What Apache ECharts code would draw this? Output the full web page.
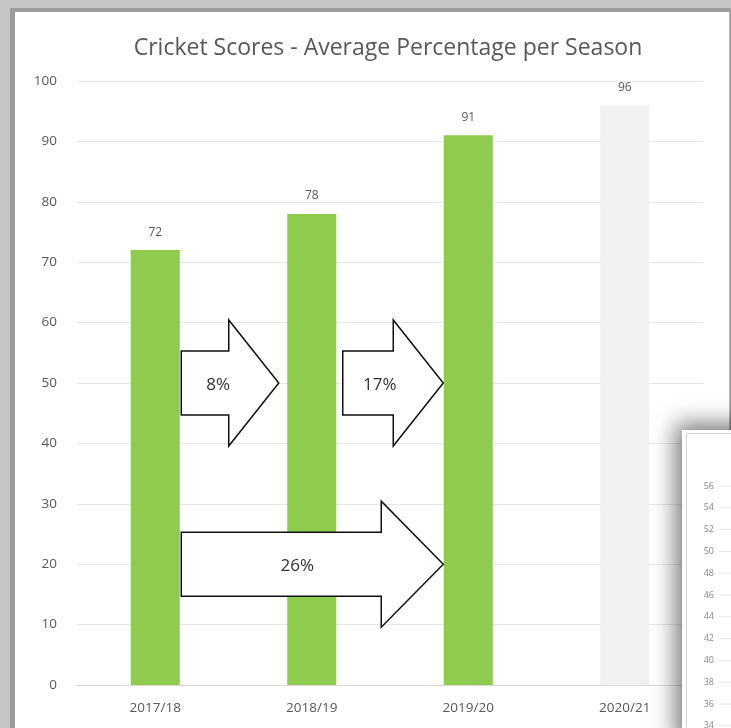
<!DOCTYPE html>
<html>
<head>
<meta charset="utf-8">
<script src="https://cdn.jsdelivr.net/npm/echarts@6/dist/echarts.min.js"></script>
<style>
html,body{margin:0;padding:0;background:#c4c4c4;}
#chart{width:731px;height:728px;}
</style>
</head>
<body>
<div id="chart"></div>
<script>
// ---- data ----
const title = 'Cricket Scores - Average Percentage per Season';
const categories = ['2017/18', '2018/19', '2019/20', '2020/21'];
const scores = [72, 78, 91, 96];
const barColors = ['#8fcc4e', '#8fcc4e', '#8fcc4e', '#f2f2f2'];
const arrowLabels = ['8%', '17%', '26%'];
const arrowFrom = [0, 1, 0];
const arrowTo = [1, 2, 2];
const arrowLevel = [50, 50, 20];
const insetTicks = ['56', '54', '52', '50', '48', '46', '44', '42', '40', '38', '36', '34'];

const FONT = '"Open Sans", "Liberation Sans", sans-serif';
const chart = echarts.init(document.getElementById('chart'));

chart.setOption({
  backgroundColor: 'transparent',
  animation: false,
  title: {
    text: title, left: 383, top: 32, textAlign: 'center',
    textStyle: { fontFamily: FONT, fontSize: 23, fontWeight: 'normal', color: '#595959' }
  },
  grid: { left: 77, right: 28, top: 81, bottom: 43 },
  xAxis: {
    type: 'category', data: categories,
    axisLine: { lineStyle: { color: '#d9d9d9', width: 1 } },
    axisTick: { show: false },
    axisLabel: { fontFamily: FONT, fontSize: 13.5, color: '#595959', margin: 16 }
  },
  yAxis: {
    type: 'value', min: 0, max: 100, interval: 10,
    axisLine: { show: false }, axisTick: { show: false },
    splitLine: { lineStyle: { color: '#e8e8e8', width: 1 } },
    axisLabel: { fontFamily: FONT, fontSize: 13.5, color: '#595959', margin: 20 }
  },
  series: [{
    type: 'bar',
    barWidth: 49,
    data: scores.map((v, i) => ({ value: v, itemStyle: { color: barColors[i] } })),
    label: { show: true, position: 'top', distance: 12, fontFamily: FONT, fontSize: 12, color: '#595959' }
  }]
});

function buildGraphics() {
  const g = [];
  // card frame
  g.push({ type: 'rect', z: -100, silent: true, shape: { x: 0, y: 0, width: 731, height: 728 }, style: { fill: '#c6c6c6' } });
  g.push({ type: 'rect', z: -99, silent: true, shape: { x: 10, y: 8, width: 721, height: 720 }, style: { fill: '#9c9c9c' } });
  g.push({ type: 'rect', z: -98, silent: true, shape: { x: 15, y: 12, width: 714, height: 716 }, style: { fill: '#ffffff' } });
  g.push({ type: 'line', z: -97, silent: true, shape: { x1: 729.5, y1: 12, x2: 729.5, y2: 728 }, style: { stroke: '#b5b5b5', lineWidth: 1 } });

  // arrows
  for (let k = 0; k < arrowLabels.length; k++) {
    const a = chart.convertToPixel({ xAxisIndex: 0, yAxisIndex: 0 }, [categories[arrowFrom[k]], arrowLevel[k]]);
    const b = chart.convertToPixel({ xAxisIndex: 0, yAxisIndex: 0 }, [categories[arrowTo[k]], arrowLevel[k]]);
    const left = a[0] + 26 + (k === 1 ? 5 : 0);
    const tip = b[0] - (k === 0 ? 33 : 25);
    const cy = a[1];
    const headLen = k === 2 ? 62 : 50;
    const sh = 32, hh = 63;
    const pts = [
      [left, cy - sh], [tip - headLen, cy - sh], [tip - headLen, cy - hh], [tip, cy],
      [tip - headLen, cy + hh], [tip - headLen, cy + sh], [left, cy + sh]
    ];
    g.push({ type: 'polygon', z: 50, silent: true, shape: { points: pts },
      style: { fill: '#ffffff', stroke: '#111111', lineWidth: 1.5 } });
    const tx = k === 2 ? (left + tip) / 2 - 15 : left + 37;
    g.push({ type: 'text', z: 51, silent: true, x: tx, y: cy + 2,
      style: { text: arrowLabels[k], fontFamily: FONT, fontSize: 17, fill: '#333333', align: 'center', verticalAlign: 'middle' } });
  }

  // overlapping second card (bottom right)
  g.push({ type: 'rect', z: 94, silent: true, shape: { x: 682, y: 430, width: 80, height: 320 },
    style: { fill: '#ffffff', shadowBlur: 22, shadowColor: 'rgba(0,0,0,0.55)', shadowOffsetX: -6, shadowOffsetY: -6 } });
  g.push({ type: 'rect', z: 95, silent: true, shape: { x: 682, y: 430, width: 80, height: 320 }, style: { fill: '#ffffff' } });
  g.push({ type: 'rect', z: 96, silent: true, shape: { x: 686.5, y: 433.5, width: 60, height: 310 }, style: { fill: 'none', stroke: '#d6d6d6', lineWidth: 1 } });
  insetTicks.forEach((t, i) => {
    const y = 486 + i * 21.8;
    g.push({ type: 'text', z: 97, silent: true, x: 714, y: y,
      style: { text: t, fontFamily: FONT, fontSize: 9, fill: '#8a8a8a', align: 'right', verticalAlign: 'middle' } });
    g.push({ type: 'line', z: 97, silent: true, shape: { x1: 719, y1: y, x2: 731, y2: y }, style: { stroke: '#e6e6e6', lineWidth: 1 } });
  });
  return g;
}

chart.setOption({ graphic: buildGraphics() });
</script>
</body>
</html>
